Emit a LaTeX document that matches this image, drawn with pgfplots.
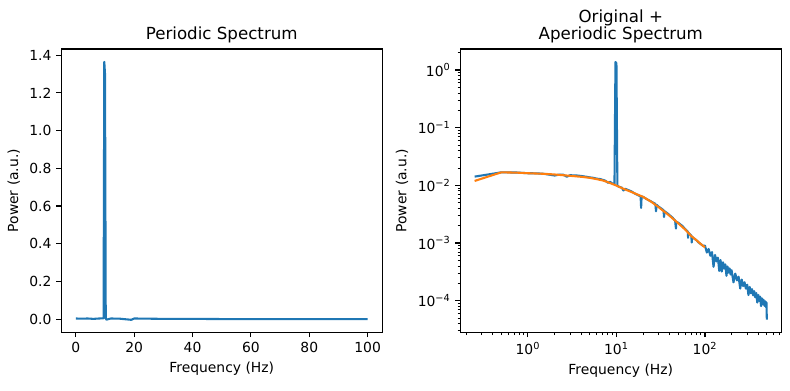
\documentclass[border=0pt]{standalone}
\usepackage{fontspec}
\setmainfont{DejaVu Sans}
\usepackage{pgfplots}
\pgfplotsset{compat=1.18}
\definecolor{c0}{HTML}{1F77B4}
\definecolor{c1}{HTML}{FF7F0E}
\pgfplotsset{mpl/.style={scale only axis, width=231.1pt, height=204pt,
  axis line style={line width=0.8pt, black},
  tick align=outside, major tick length=3.5pt, minor tick length=2pt,
  every major tick/.append style={line width=0.8pt, black},
  every minor tick/.append style={line width=0.6pt, black},
  xtick pos=bottom, ytick pos=left,
  tick label style={font=\fontsize{10}{12}\selectfont},
  label style={font=\fontsize{10}{12}\selectfont},
  title style={font=\fontsize{12}{12.5}\selectfont, align=center, yshift=-5.2pt},
  /pgf/number format/assume math mode=true},
  pl/.style={line width=1.5pt, no markers, line join=round}}
\begin{document}
\begin{tikzpicture}
\path[use as bounding box] (-44.1pt,-41.5pt) rectangle (524.7pt,239.3pt);
\begin{axis}[mpl, at={(0,0)}, anchor=south west,
  xmin=-5, xmax=105, ymin=-0.0706, ymax=1.433,
  xtick={0,20,40,60,80,100}, ytick={0,0.2,0.4,0.6,0.8,1.0,1.2,1.4},
  yticklabel style={/pgf/number format/.cd, fixed, fixed zerofill, precision=1},
  title={Periodic Spectrum}, xlabel={Frequency (Hz)}, ylabel={Power (a.u.)}]
\addplot[pl, c0] coordinates {
(0,0.003) (2,0.002) (4,0.003) (6,0.001) (8,0.003) (9.5,0.004) (9.75,1.365) (10,1.30)
(10.25,0.002) (10.5,-0.003) (12,0.003) (15,0.002) (19,-0.004) (20,0.003) (25,0.002)
(30,0.001) (40,0.001) (50,0.0) (60,0.0) (80,0.0) (100,0.0)};
\end{axis}
\begin{axis}[mpl, at={(287.3pt,0)}, anchor=south west, xmode=log, ymode=log,
  xmin=0.1722, xmax=727.8, ymin=2.82e-5, ymax=2.31,
  xtick={1,10,100}, xticklabels={10\textsuperscript{0},10\textsuperscript{1},10\textsuperscript{2}},
  minor xtick={0.2,0.3,0.4,0.5,0.6,0.7,0.8,0.9,2,3,4,5,6,7,8,9,20,30,40,50,60,70,80,90,200,300,400,500,600,700},
  ytick={1e-4,1e-3,1e-2,1e-1,1},
  yticklabels={10\textsuperscript{−4},10\textsuperscript{−3},10\textsuperscript{−2},10\textsuperscript{−1},10\textsuperscript{0}},
  minor ytick={3e-5,4e-5,5e-5,6e-5,7e-5,8e-5,9e-5,2e-4,3e-4,4e-4,5e-4,6e-4,7e-4,8e-4,9e-4,2e-3,3e-3,4e-3,5e-3,6e-3,7e-3,8e-3,9e-3,0.02,0.03,0.04,0.05,0.06,0.07,0.08,0.09,0.2,0.3,0.4,0.5,0.6,0.7,0.8,0.9,2},
  title={Original +\\Aperiodic Spectrum}, xlabel={Frequency (Hz)}, ylabel={Power (a.u.)}]
\addplot[pl, c0] coordinates {
(0.25,0.01416) (0.5,0.01679) (0.75,0.01667) (1,0.01622) (1.25,0.01614) (1.5,0.01585)
(1.75,0.01531) (2,0.01479) (2.25,0.01531) (2.5,0.01531) (2.75,0.01413) (3,0.01496)
(3.5,0.01486) (4,0.01452) (4.5,0.01413) (5,0.01374) (5.5,0.01349) (6,0.01303)
(6.5,0.01288) (7,0.01245) (7.5,0.01202) (8,0.01109) (8.5,0.01148) (9,0.01072)
(9.5,0.01047) (9.75,1.375) (10,1.31) (10.25,0.0100) (10.5,0.00955) (11,0.00933)
(11.5,0.00912) (12,0.00813) (12.5,0.00871) (13,0.00851) (14,0.00813) (15,0.00776)
(16,0.00724) (17,0.00692) (18,0.00661) (18.75,0.00646) (19,0.00407) (19.25,0.00638)
(20,0.00631) (22,0.00575) (24,0.00537) (26,0.00501) (27.5,0.00479) (28,0.00355)
(28.5,0.00457) (30,0.00427) (32,0.00398) (34,0.00372) (34.5,0.00282) (35,0.00355)
(38,0.00324) (40,0.00302) (43,0.00275) (46,0.00245) (47,0.00178) (47.5,0.00234)
(50,0.00224) (55,0.00200) (60,0.00174) (64,0.00158) (64.5,0.00123) (65,0.00151)
(70,0.00135) (71,0.00102) (71.5,0.00129) (75,0.00120) (80,0.00112) (85,0.00102)
(90,0.000955) (95,0.000891)
(100,9.016e-4) (105,6.84e-4) (110,7.87e-4) (115,6.01e-4) (120,6.95e-4) (125,3.864e-4)
(130,6.21e-4) (135,4.786e-4) (140,5.585e-4) (145,3.281e-4) (150,5.070e-4) (155,3.199e-4)
(160,4.624e-4) (165,3.597e-4) (170,4.246e-4) (175,2.692e-4) (180,3.908e-4) (185,3.062e-4)
(190,3.622e-4) (195,2.838e-4) (200,3.373e-4) (210,2.075e-4) (220,2.944e-4) (230,2.244e-4)
(240,2.600e-4) (250,1.622e-4) (260,2.323e-4) (270,1.786e-4) (280,2.089e-4) (290,1.614e-4)
(300,1.892e-4) (310,1.250e-4) (320,1.730e-4) (330,1.346e-4) (340,1.585e-4) (350,1.236e-4)
(360,1.462e-4) (370,1.143e-4) (380,1.355e-4) (390,9.25e-5) (400,1.259e-4) (410,9.886e-5)
(420,1.175e-4) (430,8.035e-5) (440,1.099e-4) (450,8.650e-5) (460,1.033e-4) (470,8.147e-5)
(480,9.727e-5) (490,7.674e-5) (495,9.311e-5) (500,4.677e-5)};
\addplot[pl, c1] coordinates {
(0.25,0.01191) (0.5,0.01679) (0.75,0.01660) (1,0.01622) (1.5,0.01585) (2,0.01542)
(3,0.01462) (4,0.01406) (5,0.01349) (6,0.01279) (7,0.01216) (8,0.01135) (10,0.00989)
(12,0.00871) (15,0.00759) (20,0.00631) (25,0.00513) (30,0.00417) (40,0.00295)
(50,0.00219) (60,0.00170) (70,0.00132) (80,0.00112) (90,0.000955) (100,0.000841)};
\end{axis}
\end{tikzpicture}
\end{document}
